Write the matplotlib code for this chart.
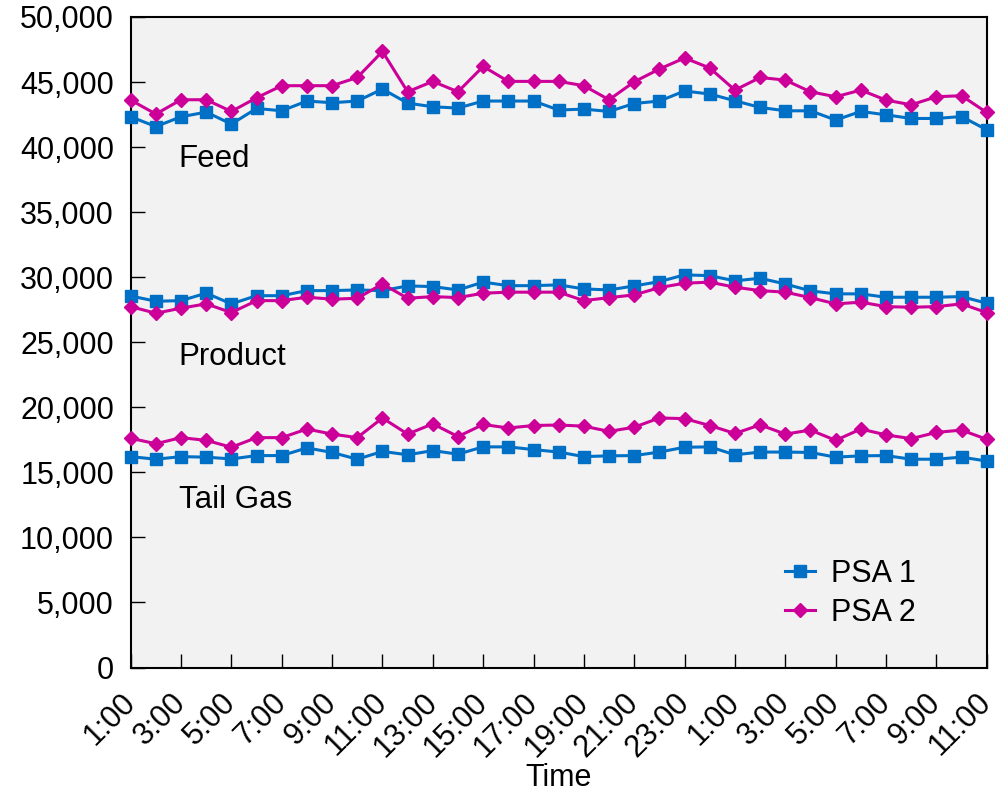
import matplotlib.pyplot as plt
import numpy as np

plt.rcParams['font.family'] = ['Liberation Sans', 'DejaVu Sans']

hours = [f"{h}:00" for h in range(1, 25)] + [f"{h}:00" for h in range(1, 12)]
hours[23] = "24:00"

feed_psa1 = [42330, 41580, 42330, 42690, 41770, 42970, 42790, 43540, 43410, 43540,
             44460, 43380, 43100, 43000, 43540, 43540, 43540, 42850, 42920, 42740,
             43350, 43540, 44310, 44080, 43560, 43050, 42790, 42790, 42080, 42740,
             42480, 42200, 42200, 42350, 41330]
feed_psa2 = [43615, 42540, 43640, 43640, 42740, 43790, 44720, 44720, 44720, 45350,
             47350, 44250, 45050, 44250, 46200, 45050, 45050, 45050, 44720, 43640,
             45020, 46000, 46850, 46080, 44380, 45350, 45150, 44250, 43870, 44380,
             43615, 43250, 43870, 43950, 42660]
prod_psa1 = [28560, 28150, 28200, 28770, 27950, 28580, 28580, 28970, 28970, 29020,
             28970, 29330, 29280, 29020, 29620, 29350, 29350, 29410, 29100, 29020,
             29330, 29660, 30180, 30120, 29720, 29920, 29480, 28950, 28720, 28720,
             28460, 28460, 28460, 28510, 28000]
prod_psa2 = [27740, 27230, 27620, 27950, 27280, 28200, 28200, 28460, 28310, 28380,
             29480, 28380, 28510, 28430, 28770, 28850, 28850, 28850, 28200, 28430,
             28640, 29200, 29540, 29620, 29230, 28970, 28850, 28430, 27950, 28080,
             27740, 27690, 27740, 27950, 27280]
tail_psa1 = [16210, 16010, 16210, 16170, 16030, 16290, 16290, 16880, 16530, 16010,
             16610, 16350, 16670, 16400, 16960, 16960, 16750, 16560, 16210, 16270,
             16290, 16560, 16930, 16960, 16350, 16560, 16560, 16530, 16170, 16270,
             16290, 16010, 16010, 16170, 15870]
tail_psa2 = [17620, 17200, 17670, 17460, 16930, 17670, 17670, 18330, 17940, 17670,
             19180, 17940, 18730, 17750, 18680, 18410, 18600, 18640, 18550, 18150,
             18470, 19180, 19130, 18600, 17990, 18650, 17940, 18250, 17460, 18330,
             17880, 17590, 18070, 18250, 17540]

blue = "#0070C6"
magenta = "#CC0099"

fig = plt.figure(figsize=(9.99, 7.94), dpi=100)
ax = fig.add_axes([0.1308, 0.1593, 0.8569, 0.8193])
ax.set_facecolor("#f2f2f2")

x = np.arange(len(hours))
first = True
for s1, s2 in [(feed_psa1, feed_psa2), (prod_psa1, prod_psa2), (tail_psa1, tail_psa2)]:
    ax.plot(x, s1, color=blue, lw=2.2, marker='s', ms=8, label="PSA 1" if first else None,
            clip_on=False, zorder=3)
    ax.plot(x, s2, color=magenta, lw=2.2, marker='D', ms=7.5, label="PSA 2" if first else None,
            clip_on=False, zorder=3)
    first = False

ax.set_xlim(0, len(hours) - 1)
ax.set_ylim(0, 50000)
ax.set_yticks(range(0, 50001, 5000))
ax.yaxis.set_major_formatter(plt.FuncFormatter(lambda v, _: f"{v:,.0f}"))
ax.set_xticks(x[::2])
ax.set_xticklabels(hours[::2], rotation=45, ha='right', va='center', rotation_mode='anchor')
ax.tick_params(direction='in', length=10, width=1, labelsize=22)
ax.tick_params(axis='y', pad=12)
ax.tick_params(axis='x', pad=22)
for sp in ax.spines.values():
    sp.set_linewidth(1.5)

ax.text(1.9, 39100, "Feed", fontsize=22.5, va='center')
ax.text(1.9, 23900, "Product", fontsize=22.5, va='center')
ax.text(1.9, 12900, "Tail Gas", fontsize=22.5, va='center')

ax.set_xlabel("Time", fontsize=22, labelpad=0)
ax.legend(loc='upper left', bbox_to_anchor=(0.732, 0.209), frameon=False, fontsize=22,
          handlelength=1.0, handletextpad=0.5, labelspacing=0.28)

fig.savefig("out.png", dpi=100)
